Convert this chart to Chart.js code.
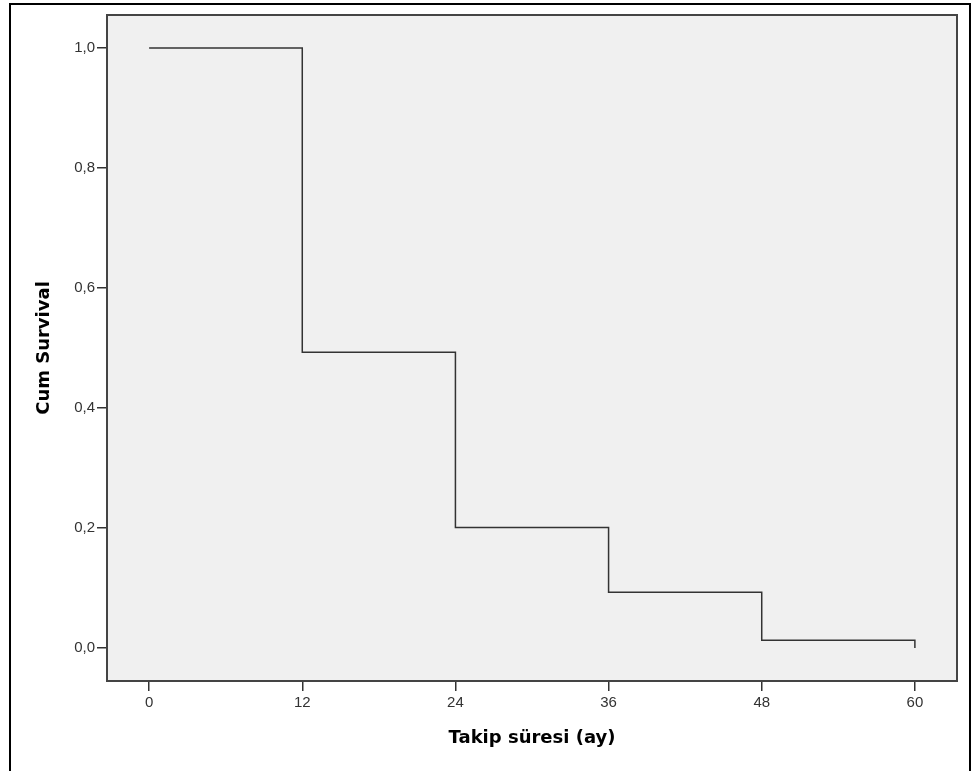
<!DOCTYPE html>
<html>
<head>
<meta charset="utf-8">
<script src="https://cdn.jsdelivr.net/npm/chart.js@4"></script>
<style>
  body { margin: 0; background: #fff; }
  canvas { display: block; }
</style>
</head>
<body>
<canvas id="canvas" width="973" height="771"></canvas>
<script>
// Kaplan-Meier survival steps
var months = [0, 12, 24, 36, 48, 60];
var survival = [1.0, 0.493, 0.201, 0.093, 0.013, 0.0];
var xTicks = [0, 12, 24, 36, 48, 60];
var yTicks = [0, 0.2, 0.4, 0.6, 0.8, 1.0];

var tickFont = { family: "'Liberation Sans', Arial, sans-serif", size: 15 };
var titleFont = { family: "'DejaVu Sans', sans-serif", size: 18, weight: "bold" };

// grey plot background, plot box and outer frame
var framePlugin = {
    id: "frame",
    beforeDraw: function (chart) {
        var ctx = chart.ctx, a = chart.chartArea;
        ctx.save();
        ctx.fillStyle = "#f0f0f0";
        ctx.fillRect(a.left, a.top, a.right - a.left, a.bottom - a.top);
        ctx.restore();
    },
    afterDraw: function (chart) {
        var ctx = chart.ctx, a = chart.chartArea;
        ctx.save();
        ctx.strokeStyle = "#444";
        ctx.lineWidth = 2;
        ctx.strokeRect(a.left, a.top, a.right - a.left, a.bottom - a.top);
        ctx.strokeStyle = "#000";
        ctx.lineWidth = 2;
        ctx.strokeRect(10, 4, 960, 800);
        ctx.restore();
    }
};

function commaLabel(v) {
    return v.toFixed(1).replace(".", ",");
}

var points = months.map(function (m, i) { return { x: m, y: survival[i] }; });

var ctx = document.getElementById("canvas").getContext("2d");
var myChart = new Chart(ctx, {
    type: "line",
    data: {
        datasets: [{
            data: points,
            stepped: true,
            fill: false,
            borderColor: "#333",
            borderWidth: 1.5,
            pointRadius: 0
        }]
    },
    options: {
        responsive: false,
        animation: false,
        layout: { padding: { left: 0, top: 15, right: 16, bottom: 0 } },
        plugins: { legend: { display: false }, tooltip: { enabled: false } },
        scales: {
            x: {
                type: "linear",
                min: -3.3,
                max: 63.3,
                afterBuildTicks: function (scale) {
                    scale.ticks = xTicks.map(function (v) { return { value: v }; });
                },
                afterFit: function (scale) { scale.height = 90; },
                ticks: { color: "#333", font: tickFont, padding: 3, maxRotation: 0 },
                grid: { drawOnChartArea: false, drawTicks: true, tickLength: 10, color: "#333", lineWidth: 1.5 },
                border: { color: "#333", width: 2 },
                title: { display: true, text: "Takip süresi (ay)", color: "#000", font: titleFont, padding: { top: 0, bottom: 22 } }
            },
            y: {
                type: "linear",
                min: -0.055,
                max: 1.055,
                afterBuildTicks: function (scale) {
                    scale.ticks = yTicks.map(function (v) { return { value: v }; });
                },
                afterFit: function (scale) { scale.width = 107; },
                ticks: { color: "#333", font: tickFont, padding: 2, callback: function (v) { return commaLabel(v); } },
                grid: { drawOnChartArea: false, drawTicks: true, tickLength: 10, color: "#333", lineWidth: 1.5 },
                border: { color: "#333", width: 2 },
                title: { display: true, text: "Cum Survival", color: "#000", font: titleFont, padding: { top: 34, bottom: 0 } }
            }
        }
    },
    plugins: [framePlugin]
});
</script>
</body>
</html>
